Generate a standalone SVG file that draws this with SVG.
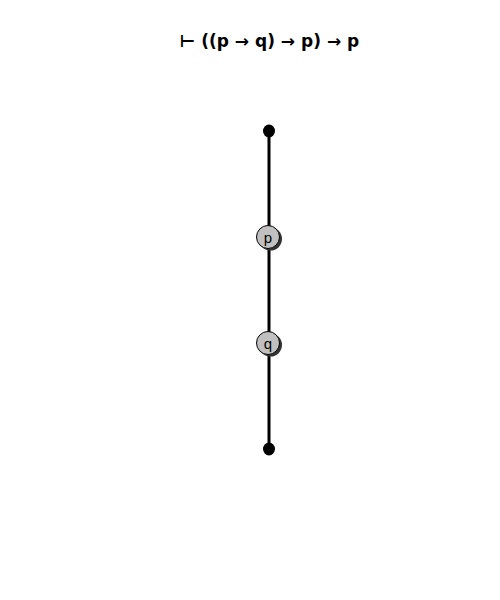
<svg xmlns="http://www.w3.org/2000/svg" width="500" height="600" viewBox="0 0 500 600">
<style>
.title{font-family:"DejaVu Sans",sans-serif;font-weight:bold;font-size:17px;fill:#000}
.lbl{font-family:"Liberation Sans",Arial,sans-serif;font-size:15px;fill:#000}
.node{fill:#c0c0c0;stroke:#000;stroke-width:1}
.shadow{fill:#333}
.edge{stroke:#000;stroke-width:3;fill:none}
.dot{fill:#000}
</style>
<rect width="500" height="600" fill="#fff"/>
<text class="title" x="269.5" y="47" text-anchor="middle">⊢ ((p → q) → p) → p</text>
<g id="connectors">
<line class="edge" x1="269" y1="131" x2="269" y2="449"/>
</g>
<g id="top">
<ellipse class="dot" cx="269" cy="131" rx="6" ry="6.5"/>
</g>
<g id="node-p">
<circle class="shadow" cx="270.5" cy="239" r="11.5"/>
<circle class="node" cx="268" cy="237" r="11.5"/>
<text class="lbl" x="268" y="242.5" text-anchor="middle">p</text>
</g>
<g id="node-q">
<circle class="shadow" cx="270.5" cy="345" r="11.5"/>
<circle class="node" cx="268" cy="343" r="11.5"/>
<text class="lbl" x="268" y="348.5" text-anchor="middle">q</text>
</g>
<g id="bottom">
<ellipse class="dot" cx="269" cy="449" rx="6" ry="6.5"/>
</g>
</svg>
